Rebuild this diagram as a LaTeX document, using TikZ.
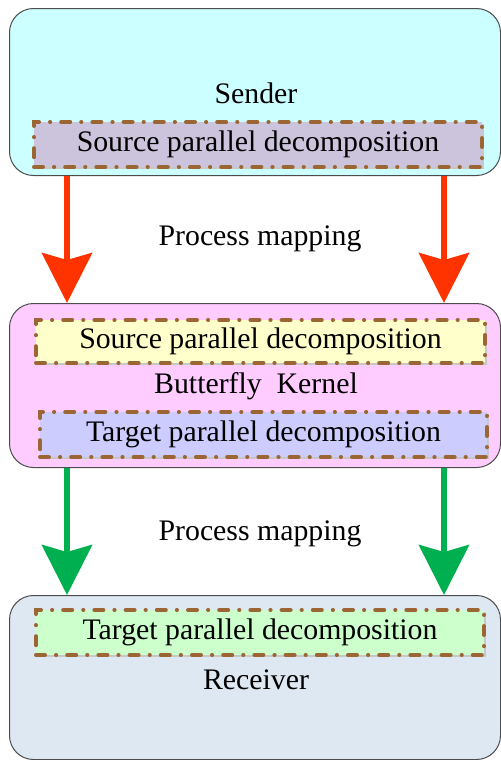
\documentclass[tikz,border=0pt]{standalone}
\usepackage{fontspec}
\setmainfont{Liberation Serif}
\usetikzlibrary{arrows.meta,shadows}
\definecolor{senderfill}{HTML}{CCFFFF}
\definecolor{kernelfill}{HTML}{FFCCFF}
\definecolor{recvfill}{HTML}{DEE8F2}
\definecolor{lavfill}{HTML}{CCC4DC}
\definecolor{yelfill}{HTML}{FFFFCC}
\definecolor{bluefill}{HTML}{CCCCFF}
\definecolor{grnfill}{HTML}{CCFFCC}
\definecolor{brownline}{HTML}{9C6634}
\definecolor{redarrow}{HTML}{FF3300}
\definecolor{greenarrow}{HTML}{00B050}
\begin{document}
\begin{tikzpicture}[x=0.5pt,y=-0.5pt,
  font=\fontsize{14.9}{18}\selectfont,
  outerbox/.style={draw=black!70, line width=0.5pt, rounded corners=12pt, inner sep=0pt},
  innerbox/.style={draw=brownline, line width=2pt, line cap=round,
     dash pattern=on 4.5pt off 5.5pt on 0.1pt off 5.5pt,
     inner sep=0pt, drop shadow={shadow xshift=1.2pt, shadow yshift=-1.2pt, fill=black!22, opacity=1}},
  txt/.style={inner sep=0pt},
  bigarrow/.style={line width=3pt, -{Stealth[length=25pt,width=25pt,inset=3.5pt]}},
]
\useasboundingbox (0,0) rectangle (501,760);
% outer boxes
\node[outerbox, fill=senderfill, minimum width=245.5pt, minimum height=83.5pt, anchor=north west] (sender) at (9,8) {};
\node[outerbox, fill=kernelfill, minimum width=245.5pt, minimum height=82pt, anchor=north west] (kernel) at (9,303) {};
\node[outerbox, fill=recvfill, minimum width=245.5pt, minimum height=82pt, anchor=north west] (recv) at (9,595) {};
% inner boxes
\node[innerbox, fill=lavfill, minimum width=224pt, minimum height=22.5pt, anchor=north west] (srcA) at (32,120) {};
\node[txt] (srcAt) at (srcA.center) {Source parallel decomposition};
\node[innerbox, fill=yelfill, minimum width=224.5pt, minimum height=21.5pt, anchor=north west] (srcB) at (34,318) {};
\node[txt] (srcBt) at (srcB.center) {Source parallel decomposition};
\node[innerbox, fill=bluefill, minimum width=223.5pt, minimum height=22.5pt, anchor=north west] (tgtA) at (38,410) {};
\node[txt] (tgtAt) at (tgtA.center) {Target parallel decomposition};
\node[innerbox, fill=grnfill, minimum width=224pt, minimum height=22.5pt, anchor=north west] (tgtB) at (34,608) {};
\node[txt] (tgtBt) at (tgtB.center) {Target parallel decomposition};
% labels
\node[txt] (sendert) at (256,93) {Sender};
\node[txt] (kernelt) at (256,386) {Butterfly\ \ Kernel};
\node[txt] (recvt) at (256,680) {Receiver};
\node[txt] (pm1) at (260,239) {Process mapping};
\node[txt] (pm2) at (260,534) {Process mapping};
% arrow columns
\coordinate (cl) at (67,0);
\coordinate (cr) at (444,0);
\draw[bigarrow, redarrow] (sender.south -| cl) -- (kernel.north -| cl);
\draw[bigarrow, redarrow] (sender.south -| cr) -- (kernel.north -| cr);
\draw[bigarrow, greenarrow] (kernel.south -| cl) -- (recv.north -| cl);
\draw[bigarrow, greenarrow] (kernel.south -| cr) -- (recv.north -| cr);
\end{tikzpicture}
\end{document}
